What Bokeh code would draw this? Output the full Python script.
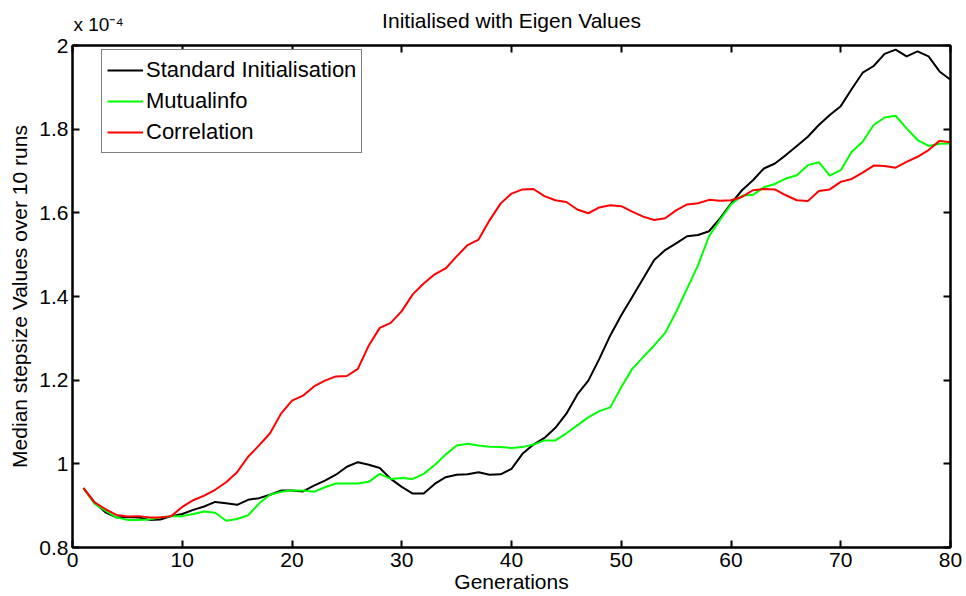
from bokeh.plotting import figure
from bokeh.models import (Range1d, LinearAxis, FixedTicker, CustomJSTickFormatter,
                          Legend, LegendItem, Label)
from bokeh.embed import file_html
from bokeh.resources import INLINE

generations = list(range(1, 81))

standard = [0.942, 0.908, 0.884, 0.872, 0.873, 0.872, 0.866, 0.867, 0.875, 0.880,
            0.890, 0.898, 0.909, 0.906, 0.902, 0.914, 0.918, 0.926, 0.936, 0.936,
            0.934, 0.948, 0.960, 0.974, 0.993, 1.004, 0.998, 0.990, 0.964, 0.945,
            0.929, 0.929, 0.952, 0.968, 0.974, 0.975, 0.980, 0.974, 0.975, 0.988,
            1.024, 1.046, 1.062, 1.086, 1.120, 1.166, 1.199, 1.251, 1.307, 1.355,
            1.399, 1.443, 1.487, 1.511, 1.527, 1.544, 1.547, 1.556, 1.587, 1.622,
            1.654, 1.678, 1.706, 1.718, 1.738, 1.760, 1.782, 1.810, 1.834, 1.855,
            1.896, 1.935, 1.951, 1.980, 1.990, 1.974, 1.986, 1.974, 1.938, 1.918]

mutualinfo = [0.942, 0.905, 0.888, 0.872, 0.866, 0.866, 0.867, 0.872, 0.875, 0.875,
              0.880, 0.886, 0.883, 0.864, 0.868, 0.877, 0.905, 0.926, 0.933, 0.936,
              0.936, 0.933, 0.944, 0.953, 0.953, 0.953, 0.957, 0.976, 0.964, 0.966,
              0.964, 0.976, 0.997, 1.022, 1.044, 1.048, 1.044, 1.041, 1.040, 1.038,
              1.040, 1.046, 1.056, 1.056, 1.073, 1.092, 1.111, 1.126, 1.135, 1.183,
              1.227, 1.255, 1.283, 1.313, 1.363, 1.419, 1.475, 1.544, 1.583, 1.620,
              1.641, 1.643, 1.661, 1.669, 1.682, 1.690, 1.714, 1.721, 1.689, 1.702,
              1.746, 1.770, 1.810, 1.828, 1.832, 1.802, 1.774, 1.760, 1.765, 1.766]

correlation = [0.942, 0.908, 0.892, 0.878, 0.874, 0.875, 0.872, 0.872, 0.875, 0.897,
               0.913, 0.924, 0.938, 0.956, 0.980, 1.017, 1.044, 1.073, 1.120, 1.151,
               1.163, 1.185, 1.199, 1.209, 1.210, 1.227, 1.283, 1.325, 1.337, 1.365,
               1.405, 1.431, 1.453, 1.467, 1.496, 1.523, 1.536, 1.582, 1.622, 1.646,
               1.656, 1.657, 1.640, 1.630, 1.626, 1.608, 1.599, 1.613, 1.618, 1.616,
               1.603, 1.591, 1.583, 1.587, 1.606, 1.620, 1.623, 1.631, 1.629, 1.630,
               1.638, 1.654, 1.657, 1.656, 1.642, 1.630, 1.628, 1.652, 1.656, 1.674,
               1.681, 1.696, 1.713, 1.712, 1.708, 1.722, 1.734, 1.750, 1.772, 1.769]

x_ticks = [0, 10, 20, 30, 40, 50, 60, 70, 80]
y_ticks = [0.8, 1.0, 1.2, 1.4, 1.6, 1.8, 2.0]
series_names = ["Standard Initialisation", "Mutualinfo", "Correlation"]
series_colors = ["#000000", "#00ff00", "#ff0000"]
title_text = "Initialised with Eigen Values"
multiplier_text = "x 10\u207b\u2074"

FONT = "Liberation Sans"

p = figure(width=966, height=596, output_backend="svg", toolbar_location=None,
           x_range=Range1d(0, 80), y_range=Range1d(0.8, 2.0))
p.title.text = ""
p.title.standoff = 0
p.title.visible = False
p.min_border_left = 72
p.min_border_right = 16
p.min_border_top = 45
p.min_border_bottom = 49
p.background_fill_color = "white"
p.border_fill_color = "white"
p.grid.visible = False
p.outline_line_color = "black"
p.outline_line_width = 2

fmt = CustomJSTickFormatter(code="return (Math.round(tick*10)/10).toString();")

for ax in p.xaxis:
    ax.ticker = FixedTicker(ticks=x_ticks)
    ax.axis_label = "Generations"
for ax in p.yaxis:
    ax.ticker = FixedTicker(ticks=y_ticks)
    ax.formatter = fmt
    ax.axis_label = "Median stepsize Values over 10 runs"

def style_axis(ax):
    ax.major_tick_in = 7
    ax.major_tick_out = 0
    ax.minor_tick_in = 0
    ax.minor_tick_out = 0
    ax.major_tick_line_width = 2
    ax.axis_line_width = 2
    ax.major_label_text_font = FONT
    ax.major_label_text_font_size = "21px"
    ax.major_label_text_color = "black"
    ax.axis_label_text_font = FONT
    ax.axis_label_text_font_size = "21px"
    ax.axis_label_text_font_style = "normal"
    ax.axis_label_text_color = "black"

for ax in p.xaxis + p.yaxis:
    style_axis(ax)
p.xaxis.major_label_standoff = 5
p.xaxis.axis_label_standoff = 0
p.yaxis.major_label_standoff = 4
p.yaxis.axis_label_standoff = 5

# mirrored tick marks on the top and right edges (no labels drawn)
top_ax = LinearAxis(ticker=FixedTicker(ticks=x_ticks))
right_ax = LinearAxis(ticker=FixedTicker(ticks=y_ticks))
for ax in (top_ax, right_ax):
    style_axis(ax)
    ax.major_label_text_font_size = "0px"
    ax.major_label_text_color = None
    ax.major_label_standoff = 0
p.add_layout(top_ax, "above")
p.add_layout(right_ax, "right")

renderers = []
for vals, col in zip([standard, mutualinfo, correlation], series_colors):
    r = p.line(generations, vals, line_color=col, line_width=2)
    renderers.append(r)

legend = Legend(items=[LegendItem(label=n, renderers=[r]) for n, r in zip(series_names, renderers)],
                location=(29, 394))
legend.border_line_color = "black"
legend.border_line_width = 1.5
legend.background_fill_alpha = 1.0
legend.label_text_font = FONT
legend.label_text_font_size = "22px"
legend.label_text_color = "black"
legend.glyph_width = 36
legend.glyph_height = 30
legend.label_height = 30
legend.label_standoff = 3
legend.spacing = 1
legend.padding = 5
legend.margin = 0
p.add_layout(legend, "center")

# Title and "x 10^-4" multiplier, anchored to the top edge of the frame and
# placed in the "above" side panel so that they are not clipped to the frame.
title_label = Label(x=40, y=2.0, y_offset=25, text=title_text, text_align="center",
                    text_font=FONT, text_font_size="21px", text_color="black",
                    text_baseline="alphabetic")
exp_label = Label(x=0, y=2.0, x_offset=1, y_offset=21, text=multiplier_text,
                  text_font=FONT, text_font_size="19px", text_color="black",
                  text_baseline="alphabetic")
p.add_layout(exp_label, "above")
p.add_layout(title_label, "above")

open("out.html", "w").write(file_html(p, INLINE))
